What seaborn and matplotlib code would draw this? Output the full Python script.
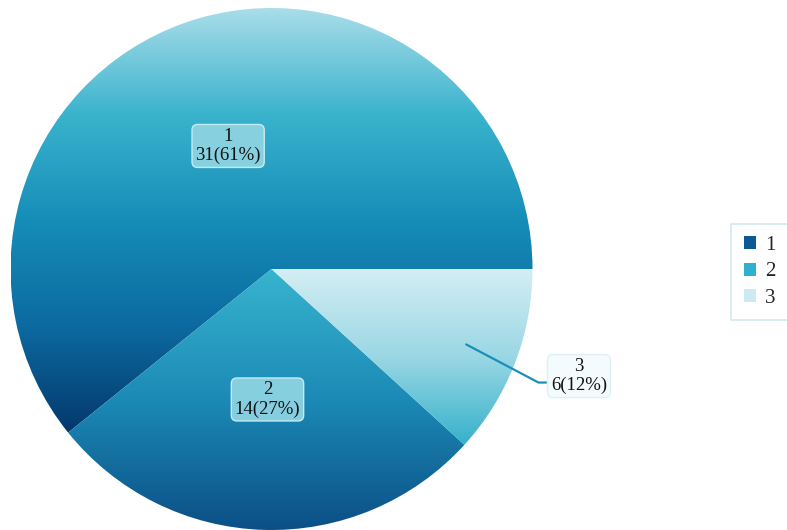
import numpy as np
import matplotlib
matplotlib.use("Agg")
import matplotlib.pyplot as plt
from matplotlib.colors import LinearSegmentedColormap
from matplotlib.patches import Patch
import seaborn as sns

# Data
categories = ["1", "2", "3"]
counts = [31, 14, 6]
legend_colors = ["#0b5a93", "#2fb0cc", "#cde9f1"]

# Vertical gradient (top -> bottom) used to fill each slice
slice_gradients = [
    ["#a9dde9", "#3ab3cd", "#168db8", "#0c6aa0", "#04386c"],
    ["#37b4ce", "#1c8ab6", "#0b4f86"],
    ["#d4eef4", "#9ad7e4", "#35b1cb"],
]

sns.set_theme(style="white")
plt.rcParams["font.family"] = ["Liberation Serif", "DejaVu Serif"]

W, H = 787, 530
fig = plt.figure(figsize=(W / 100, H / 100), dpi=100)
ax = fig.add_axes([0, 0, 1, 1])

R_PX = 261.0
CX, CY = 271.5, 269.0

wedges, _ = ax.pie(counts, startangle=0, counterclock=True,
                   radius=1.0, center=(0, 0), frame=True,
                   wedgeprops=dict(linewidth=0))
ax.set_xlim(-CX / R_PX, (W - CX) / R_PX)
ax.set_ylim(-(H - CY) / R_PX, CY / R_PX)
ax.set_aspect("auto")
ax.set_axis_off()

for w, stops in zip(wedges, slice_gradients):
    w.set_facecolor("none")
    w.set_edgecolor("none")
    bb = w.get_path().get_extents()
    cmap = LinearSegmentedColormap.from_list("g", stops)
    grad = np.linspace(0, 1, 256).reshape(-1, 1)
    im = ax.imshow(grad, cmap=cmap, aspect="auto", origin="upper",
                   extent=(bb.x0, bb.x1, bb.y0, bb.y1), interpolation="bicubic",
                   zorder=1)
    im.set_clip_path(w)

total = sum(counts)
for i, (w, lab, v) in enumerate(zip(wedges, categories, counts)):
    pct = int(round(v / total * 100))
    text = f"{lab}\n{v}({pct}%)"
    mid = np.deg2rad((w.theta1 + w.theta2) / 2)
    if i < 2:
        x, y = 0.5 * np.cos(mid), 0.5 * np.sin(mid)
        ax.text(x, y, text, ha="center", va="center", fontsize=13.5,
                linespacing=1.15, color="#111111", zorder=5,
                bbox=dict(boxstyle="round,pad=0.18,rounding_size=0.3",
                          fc="#8dd3e2", ec="#c8eef5", lw=1.0, alpha=0.95))
    else:
        x0, y0 = 0.8 * np.cos(mid), 0.8 * np.sin(mid)
        x1, y1 = 1.023, -0.435
        ax.plot([x0, x1, x1 + 0.03], [y0, y1, y1], color="#1a90b8",
                lw=1.6, zorder=4, solid_capstyle="round")
        ax.text(1.178, -0.41, text, ha="center", va="center", fontsize=13.5,
                linespacing=1.15, color="#111111", zorder=5,
                bbox=dict(boxstyle="round,pad=0.18,rounding_size=0.3",
                          fc="#f4fbfd", ec="#dcf0f5", lw=1.0))

handles = [Patch(facecolor=c, edgecolor="none") for c in legend_colors]
leg = fig.legend(handles, categories, loc="center left",
                 bbox_to_anchor=(731 / W, 1 - 272 / H), frameon=True,
                 fancybox=False, fontsize=15, handlelength=0.6,
                 handleheight=0.6, handletextpad=0.45, borderpad=0.6,
                 labelspacing=0.35, borderaxespad=0)
leg.get_frame().set_edgecolor("#c9e3ec")
leg.get_frame().set_linewidth(1.2)

fig.savefig("out.png", dpi=100, facecolor="white")
